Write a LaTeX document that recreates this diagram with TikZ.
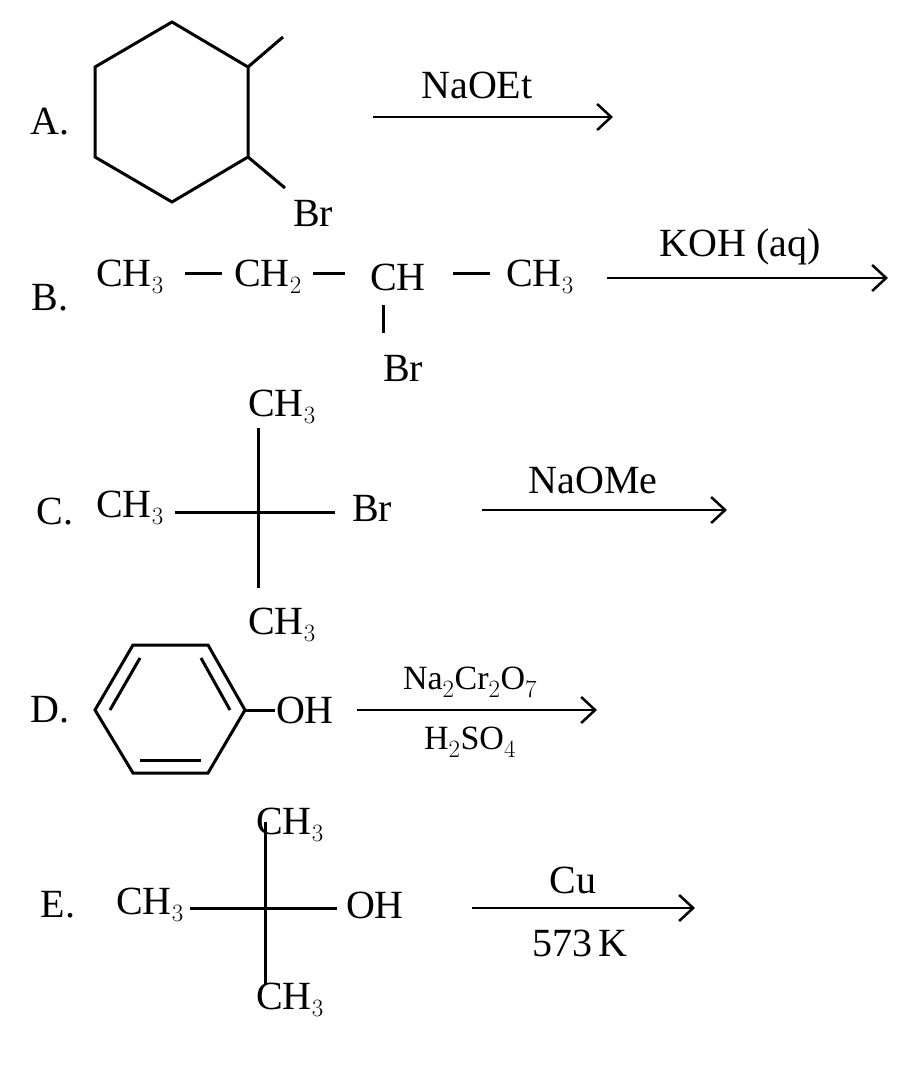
\documentclass[tikz,border=0pt]{standalone}
\usepackage{fontspec}
\usetikzlibrary{arrows.meta}
\setmainfont{Liberation Serif}
\begin{document}
\begin{tikzpicture}[x=1pt,y=-1pt,line width=3pt,
 t/.style={font=\fontsize{40}{44}\selectfont,inner sep=0pt},
 s/.style={font=\fontsize{34}{38}\selectfont,inner sep=0pt},
 arr/.style={->,line width=2.5pt,>={Straight Barb[length=14pt,width=26pt,line width=2.5pt]}}]
\useasboundingbox (0,0) rectangle (900,1069);
% A
\node[t] (la) at (50,122) {A.};
\draw (95,67) -- (172,22) -- (248,67) -- (248,157) -- (172,202) -- (95,157) -- cycle;
\draw (248,67) -- (283,37);
\draw (248,157) -- (285,188);
\node[t] (bra) at (313,213) {Br};
\coordinate (a1) at (373,117); \coordinate (a2) at (613,117);
\draw[arr] (a1) -- (a2);
\node[t] (ra) at (477,85) {NaOEt};
% B
\node[t] (lb) at (50,298) {B.};
\node[t] (b1) at (130,277) {CH$_3$};
\node[t] (b2) at (268,277) {CH$_2$};
\node[t] (b3) at (398,277) {CH};
\node[t] (b4) at (540,277) {CH$_3$};
\draw (185,273) -- (222,273);
\draw (313,273) -- (345,273);
\draw (453,273) -- (490,273);
\draw (383,305) -- (383,333);
\node[t] (brb) at (403,368) {Br};
\coordinate (b5) at (607,278); \coordinate (b6) at (888,278);
\draw[arr] (b5) -- (b6);
\node[t] (rb) at (740,247) {KOH (aq)};
% C
\node[t] (lc) at (55,512) {C.};
\node[t] (c1) at (130,508) {CH$_3$};
\node[t] (c2) at (282,407) {CH$_3$};
\node[t] (c3) at (282,625) {CH$_3$};
\node[t] (brc) at (372,508) {Br};
\draw (175,512) -- (335,512);
\draw (258,428) -- (258,588);
\coordinate (c5) at (482,510); \coordinate (c6) at (727,510);
\draw[arr] (c5) -- (c6);
\node[t] (rc) at (593,480) {NaOMe};
% D
\node[t] (ld) at (50,710) {D.};
\draw (95,710) -- (133,645) -- (208,645) -- (245,710) -- (208,773) -- (133,773) -- cycle;
\draw (110,710) -- (140,658);
\draw (201,658) -- (230,710);
\draw (140,760) -- (201,760);
\draw (245,710) -- (275,710);
\node[t] (ohd) at (305,710) {OH};
\coordinate (d5) at (357,710); \coordinate (d6) at (597,710);
\draw[arr] (d5) -- (d6);
\node[s] (rd1) at (470,682) {Na$_2$Cr$_2$O$_7$};
\node[s] (rd2) at (470,742) {H$_2$SO$_4$};
% E
\node[t] (le) at (58,905) {E.};
\node[t] (e1) at (150,905) {CH$_3$};
\node[t] (e2) at (290,825) {CH$_3$};
\node[t] (e3) at (290,1000) {CH$_3$};
\node[t] (ohe) at (375,905) {OH};
\draw (190,908) -- (337,908);
\draw (265,822) -- (265,985);
\coordinate (e5) at (472,908); \coordinate (e6) at (695,908);
\draw[arr] (e5) -- (e6);
\node[t] (re1) at (573,880) {Cu};
\node[t] (re2) at (580,943) {573\,K};
\end{tikzpicture}
\end{document}
